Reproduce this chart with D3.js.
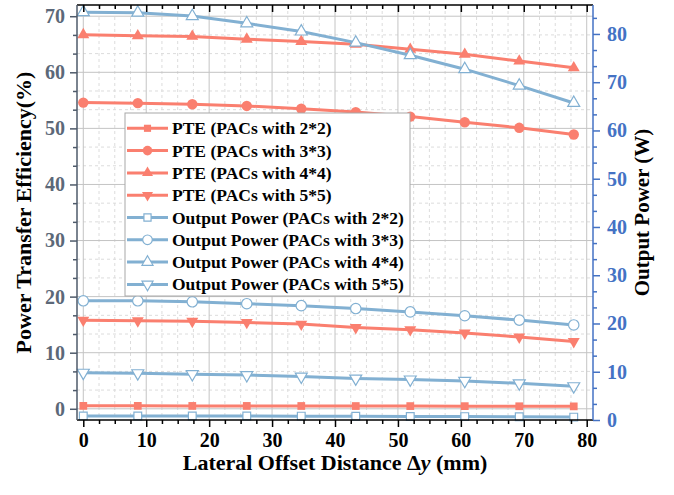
<!doctype html>
<html>
<head>
    <title> PTE and output power vs lateral offset </title>
    <script src="https://d3js.org/d3.v7.min.js"></script>
    <style>
        body { margin: 0; background: #fff; }
        text { font-family: "Liberation Serif", "Times New Roman", serif; font-weight: bold; }
    </style>
</head>
<body>
<script>
    // lateral offset positions (mm)
    var offsets = [0, 8.66, 17.32, 25.98, 34.64, 43.3, 51.96, 60.62, 69.28, 77.94];

    // PTE (%) - left axis
    var pte22 = [0.52, 0.52, 0.51, 0.51, 0.50, 0.49, 0.48, 0.47, 0.45, 0.43];
    var pte33 = [54.6, 54.5, 54.3, 54.0, 53.5, 52.9, 52.1, 51.1, 50.1, 48.9];
    var pte44 = [66.7, 66.5, 66.4, 65.9, 65.5, 65.0, 64.1, 63.2, 62.0, 60.8];
    var pte55 = [15.8, 15.7, 15.6, 15.4, 15.1, 14.5, 14.1, 13.5, 12.8, 12.0];

    // output power (W) - right axis
    var op22 = [0.85, 0.84, 0.83, 0.82, 0.80, 0.77, 0.74, 0.70, 0.66, 0.60];
    var op33 = [24.7, 24.7, 24.5, 24.1, 23.7, 23.1, 22.4, 21.6, 20.7, 19.7];
    var op44 = [84.5, 84.4, 83.7, 82.2, 80.5, 78.2, 75.6, 72.7, 69.3, 65.7];
    var op55 = [9.8, 9.7, 9.5, 9.3, 9.0, 8.6, 8.4, 8.1, 7.6, 7.0];

    var legendLabels = [
        "PTE (PACs with 2*2)", "PTE (PACs with 3*3)", "PTE (PACs with 4*4)", "PTE (PACs with 5*5)",
        "Output Power (PACs with 2*2)", "Output Power (PACs with 3*3)",
        "Output Power (PACs with 4*4)", "Output Power (PACs with 5*5)"
    ];

    var red = "#fa7f6f", blue = "#82b0d2";

    var series = [
        {name: legendLabels[0], values: pte22, axis: "L", shape: "square", open: false},
        {name: legendLabels[1], values: pte33, axis: "L", shape: "circle", open: false},
        {name: legendLabels[2], values: pte44, axis: "L", shape: "up", open: false},
        {name: legendLabels[3], values: pte55, axis: "L", shape: "down", open: false},
        {name: legendLabels[4], values: op22, axis: "R", shape: "square", open: true},
        {name: legendLabels[5], values: op33, axis: "R", shape: "circle", open: true},
        {name: legendLabels[6], values: op44, axis: "R", shape: "up", open: true},
        {name: legendLabels[7], values: op55, axis: "R", shape: "down", open: true}
    ];

    var W = 674, H = 495;
    var pLeft = 77, pRight = 593, pTop = 5, pBottom = 420;

    var svg = d3.select("body").append("svg")
        .attr("width", W)
        .attr("height", H);

    var x = d3.scaleLinear().domain([-1, 81]).range([pLeft, pRight]);
    var yL = d3.scaleLinear().domain([-2, 72]).range([pBottom, pTop]);
    var yR = d3.scaleLinear().domain([0, 86]).range([pBottom, pTop]);

    // tick values
    var xMajor = d3.range(0, 81, 10);
    var xMinor = d3.range(0, 33).filter(function(i){ return i % 4 != 0; }).map(function(i){ return i * 2.5; });
    var yMajor = d3.range(0, 71, 10);
    var yMinor = d3.range(0, 22).filter(function(i){ return i % 3 != 0; }).map(function(i){ return i * 10 / 3; });
    var rMajor = d3.range(0, 81, 10);
    var rMinor = d3.range(0, 26).filter(function(i){ return i % 3 != 0; }).map(function(i){ return i * 10 / 3; });

    // grid
    var grid = svg.append("g");
    grid.selectAll(".gxm").data(xMinor).enter().append("line")
        .attr("x1", function(d){ return x(d); }).attr("x2", function(d){ return x(d); })
        .attr("y1", pTop).attr("y2", pBottom)
        .style("stroke", "#dcdcdc").style("stroke-dasharray", "3,3");
    grid.selectAll(".gym").data(yMinor).enter().append("line")
        .attr("y1", function(d){ return yL(d); }).attr("y2", function(d){ return yL(d); })
        .attr("x1", pLeft).attr("x2", pRight)
        .style("stroke", "#dcdcdc").style("stroke-dasharray", "3,3");
    grid.selectAll(".gx").data(xMajor).enter().append("line")
        .attr("x1", function(d){ return x(d); }).attr("x2", function(d){ return x(d); })
        .attr("y1", pTop).attr("y2", pBottom)
        .style("stroke", "#c4c4c4");
    grid.selectAll(".gy").data(yMajor).enter().append("line")
        .attr("y1", function(d){ return yL(d); }).attr("y2", function(d){ return yL(d); })
        .attr("x1", pLeft).attr("x2", pRight)
        .style("stroke", "#c4c4c4");

    // symbol helper
    function symbolPath(shape, size) {
        var t = d3.symbolSquare;
        if (shape == "circle") t = d3.symbolCircle;
        if (shape == "up" || shape == "down") t = d3.symbolTriangle;
        return d3.symbol().type(t).size(size)();
    }
    function symbolSize(shape) {
        if (shape == "square") return 60;
        if (shape == "circle") return 85;
        return 62;
    }

    // lines and markers
    series.forEach(function(s){
        var yy = s.axis == "L" ? yL : yR;
        var col = s.axis == "L" ? red : blue;
        var pts = offsets.map(function(o, i){ return [o, s.values[i]]; });
        var line = d3.line().x(function(d){ return x(d[0]); }).y(function(d){ return yy(d[1]); });
        svg.append("path").datum(pts)
            .attr("d", line)
            .style("fill", "none").style("stroke", col).style("stroke-width", 3);
        svg.selectAll(null).data(pts).enter().append("path")
            .attr("d", symbolPath(s.shape, symbolSize(s.shape)))
            .attr("transform", function(d){
                return "translate(" + x(d[0]) + "," + yy(d[1]) + ")" + (s.shape == "down" ? " rotate(180)" : "");
            })
            .style("fill", s.open ? "#fff" : col)
            .style("stroke", col)
            .style("stroke-width", s.open ? 1.2 : 0);
    });

    // axes
    function styleAxis(g, col, fs) {
        g.select(".domain").style("stroke", col).style("stroke-width", 1.5);
        g.selectAll(".tick line").style("stroke", col).style("stroke-width", 1.5);
        g.selectAll("text").style("fill", col).style("font-size", fs + "px")
            .style("font-family", "'Liberation Serif', 'Times New Roman', serif").style("font-weight", "bold");
    }

    var bx = svg.append("g").attr("transform", "translate(0," + pBottom + ")")
        .call(d3.axisBottom(x).tickValues(xMajor).tickSize(7).tickPadding(6).tickSizeOuter(0));
    styleAxis(bx, "#000", 20);
    bx.select(".domain").attr("d", "M" + pLeft + ",0H" + pRight);
    var bxm = svg.append("g").attr("transform", "translate(0," + pBottom + ")")
        .call(d3.axisBottom(x).tickValues(xMinor).tickSize(4).tickFormat(""));
    styleAxis(bxm, "#000", 20);
    bxm.select(".domain").remove();

    // top frame with inward ticks
    var tx = svg.append("g").attr("transform", "translate(0," + pTop + ")")
        .call(d3.axisBottom(x).tickValues(xMajor).tickSize(7).tickFormat("").tickSizeOuter(0));
    styleAxis(tx, "#000", 20);
    tx.select(".domain").attr("d", "M" + pLeft + ",0H" + pRight);
    var txm = svg.append("g").attr("transform", "translate(0," + pTop + ")")
        .call(d3.axisBottom(x).tickValues(xMinor).tickSize(4).tickFormat(""));
    styleAxis(txm, "#000", 20);
    txm.select(".domain").remove();

    var slate = "#4e5a6a";
    var ly = svg.append("g").attr("transform", "translate(" + pLeft + ",0)")
        .call(d3.axisLeft(yL).tickValues(yMajor).tickSize(7).tickPadding(5).tickSizeOuter(0));
    styleAxis(ly, slate, 20);
    ly.selectAll("text").style("fill", "#5c6878");
    ly.select(".domain").attr("d", "M0," + pTop + "V" + pBottom);
    var lym = svg.append("g").attr("transform", "translate(" + pLeft + ",0)")
        .call(d3.axisLeft(yL).tickValues(yMinor).tickSize(4).tickFormat(""));
    styleAxis(lym, slate, 20);
    lym.select(".domain").remove();

    var rblue = "#4472c4";
    var ry = svg.append("g").attr("transform", "translate(" + pRight + ",0)")
        .call(d3.axisRight(yR).tickValues(rMajor).tickSize(7).tickPadding(7).tickSizeOuter(0));
    styleAxis(ry, rblue, 20);
    ry.select(".domain").attr("d", "M0," + pTop + "V" + pBottom);
    var rym = svg.append("g").attr("transform", "translate(" + pRight + ",0)")
        .call(d3.axisRight(yR).tickValues(rMinor).tickSize(4).tickFormat(""));
    styleAxis(rym, rblue, 20);
    rym.select(".domain").remove();

    // axis titles
    svg.append("text")
        .attr("transform", "translate(31," + ((pTop + pBottom) / 2) + ") rotate(-90)")
        .attr("text-anchor", "middle")
        .style("font-size", "22px")
        .text("Power Transfer Efficiency(%)");
    svg.append("text")
        .attr("transform", "translate(649," + ((pTop + pBottom) / 2) + ") rotate(-90)")
        .attr("text-anchor", "middle")
        .style("font-size", "21px")
        .text("Output Power (W)");
    var xt = svg.append("text")
        .attr("x", (pLeft + pRight) / 2)
        .attr("y", 470)
        .attr("text-anchor", "middle")
        .style("font-size", "22px");
    xt.append("tspan").text("Lateral Offset Distance \u0394");
    xt.append("tspan").style("font-style", "italic").text("y");
    xt.append("tspan").text(" (mm)");

    // legend
    var lg = svg.append("g").attr("transform", "translate(125,113)");
    lg.append("rect")
        .attr("width", 285).attr("height", 183)
        .style("fill", "#fff").style("stroke", "#a8a8a8").style("stroke-width", 1);
    var rows = lg.selectAll(".row").data(series).enter().append("g")
        .attr("transform", function(d, i){ return "translate(0," + (15.3 + i * 22.3) + ")"; });
    rows.append("line")
        .attr("x1", 2).attr("x2", 43)
        .style("stroke", function(d){ return d.axis == "L" ? red : blue; })
        .style("stroke-width", 3);
    rows.append("path")
        .attr("d", function(d){ return symbolPath(d.shape, symbolSize(d.shape) * 0.85); })
        .attr("transform", function(d){ return "translate(22.5,0)" + (d.shape == "down" ? " rotate(180)" : ""); })
        .style("fill", function(d){ return d.open ? "#fff" : (d.axis == "L" ? red : blue); })
        .style("stroke", function(d){ return d.axis == "L" ? red : blue; })
        .style("stroke-width", function(d){ return d.open ? 1.2 : 0; });
    rows.append("text")
        .attr("x", 47).attr("y", 6)
        .style("font-size", "17.5px")
        .text(function(d){ return d.name; });
</script>
</body>
</html>
